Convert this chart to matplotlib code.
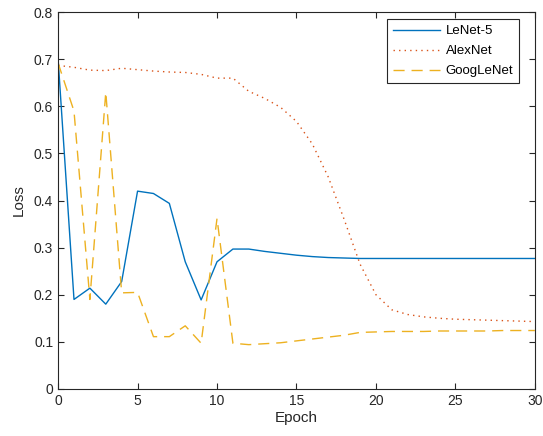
import matplotlib
matplotlib.use("Agg")
import matplotlib.pyplot as plt

# Loss per epoch
epochs = list(range(31))
lenet = [0.700, 0.190, 0.214, 0.180, 0.228, 0.420, 0.415, 0.394, 0.270, 0.189,
         0.270, 0.297, 0.297, 0.292, 0.288, 0.284, 0.281, 0.279, 0.278, 0.277,
         0.277, 0.277, 0.277, 0.277, 0.277, 0.277, 0.277, 0.277, 0.277, 0.277,
         0.277]
alexnet = [0.687, 0.683, 0.677, 0.676, 0.681, 0.678, 0.675, 0.673, 0.672, 0.668,
           0.660, 0.660, 0.632, 0.617, 0.598, 0.568, 0.520, 0.450, 0.360, 0.265,
           0.200, 0.168, 0.158, 0.153, 0.150, 0.148, 0.147, 0.146, 0.145, 0.144,
           0.143]
googlenet = [0.692, 0.590, 0.190, 0.630, 0.204, 0.205, 0.111, 0.111, 0.134, 0.097,
             0.362, 0.097, 0.094, 0.096, 0.098, 0.102, 0.106, 0.110, 0.114, 0.120,
             0.121, 0.122, 0.122, 0.122, 0.123, 0.123, 0.123, 0.123, 0.124, 0.124,
             0.124]

INK = "#262626"
plt.rcParams["font.family"] = ["Liberation Sans", "DejaVu Sans"]

fig = plt.figure(figsize=(5.43, 4.36), dpi=100)
ax = fig.add_axes([0.107, 0.108, 0.878, 0.864])

ax.plot(epochs, lenet, color="#0072BD", lw=1.0, label="LeNet-5")
ax.plot(epochs, alexnet, color="#D95319", lw=1.0, ls=(0, (1, 3)), label="AlexNet")
ax.plot(epochs, googlenet, color="#EDB120", lw=1.0, ls=(0, (8, 5)), label="GoogLeNet")

ax.set_xlim(0, 30)
ax.set_ylim(0, 0.8)
ax.set_xticks(range(0, 31, 5))
ax.set_yticks([i / 10 for i in range(9)])
ax.set_yticklabels(["0", "0.1", "0.2", "0.3", "0.4", "0.5", "0.6", "0.7", "0.8"])
ax.tick_params(direction="in", top=True, right=True, length=4, width=0.8,
               colors=INK, labelsize=10)
for s in ax.spines.values():
    s.set_color(INK)
    s.set_linewidth(0.8)
ax.set_xlabel("Epoch", fontsize=11, color=INK, labelpad=2)
ax.set_ylabel("Loss", fontsize=11, color=INK, labelpad=6)

# legend box sits a little in from the top-right corner, MATLAB style
leg = ax.legend(loc="upper right", bbox_to_anchor=(0.967, 0.982), fontsize=9.5,
                fancybox=False, framealpha=1, edgecolor=INK, handlelength=3.6,
                borderpad=0.45, labelspacing=0.6, handletextpad=0.4,
                borderaxespad=0)
leg.get_frame().set_linewidth(0.8)

fig.savefig("out.png", dpi=100)
